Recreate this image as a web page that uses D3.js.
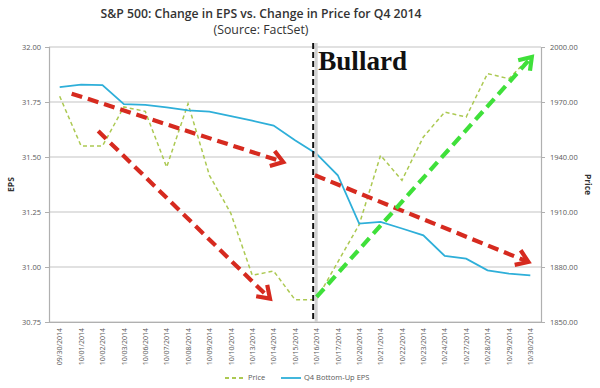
<!DOCTYPE html>
<html>
<head>
<meta charset="utf-8">
<script src="https://cdn.jsdelivr.net/npm/d3@7"></script>
<style>
  body { margin: 0; background: #fff; }
  svg { display: block; font-family: "Open Sans", sans-serif; }
</style>
</head>
<body>
<div id="chart"></div>
<script>
// Chart data
const dates = ["09/30/2014", "10/01/2014", "10/02/2014", "10/03/2014", "10/06/2014", "10/07/2014",
  "10/08/2014", "10/09/2014", "10/10/2014", "10/13/2014", "10/14/2014", "10/15/2014", "10/16/2014",
  "10/17/2014", "10/20/2014", "10/21/2014", "10/22/2014", "10/23/2014", "10/24/2014", "10/27/2014",
  "10/28/2014", "10/29/2014", "10/30/2014"];
const price = [1973.1, 1946.0, 1946.0, 1967.3, 1964.9, 1934.5, 1969.1, 1930.0, 1909.3, 1875.5,
  1877.8, 1862.2, 1862.2, 1882.7, 1903.1, 1940.9, 1927.3, 1950.9, 1964.5, 1961.8, 1985.5, 1982.7, 1994.5];
const eps = [31.818, 31.829, 31.827, 31.740, 31.737, 31.726, 31.712, 31.706, 31.686, 31.665,
  31.643, 31.576, 31.515, 31.417, 31.197, 31.205, 31.175, 31.144, 31.050, 31.038, 30.985, 30.970, 30.962];
const epsTicks = [30.75, 31.00, 31.25, 31.50, 31.75, 32.00];
const priceTicks = [1850, 1880, 1910, 1940, 1970, 2000];

// Hand-drawn annotation arrows, in (date index, EPS value) space
const arrows = [
  { from: [0.56, 31.788], to: [10.45, 31.477], color: "#d62a1f" },
  { from: [1.80, 31.618], to: [9.83, 30.856], color: "#d62a1f" },
  { from: [11.93, 31.417], to: [21.91, 31.023], color: "#d62a1f" },
  { from: [12.01, 30.864], to: [22.07, 31.955], color: "#3fe03a" }
];
const markerIndex = 11.85; // "Bullard" line position

const width = 600, height = 388;
const margin = { top: 47, right: 59, bottom: 66, left: 49 };

const svg = d3.select("#chart").append("svg")
  .attr("width", width)
  .attr("height", height);

const x = d3.scalePoint()
  .domain(dates)
  .range([margin.left, width - margin.right])
  .padding(0.5);
const xi = i => x(dates[0]) + i * x.step();

const yL = d3.scaleLinear().domain([30.75, 32]).range([height - margin.bottom, margin.top]);
const yR = d3.scaleLinear().domain([1850, 2000]).range([height - margin.bottom, margin.top]);

// Gridlines
svg.append("g")
  .selectAll("line")
  .data(epsTicks)
  .join("line")
  .attr("x1", margin.left).attr("x2", width - margin.right)
  .attr("y1", d => yL(d)).attr("y2", d => yL(d))
  .attr("stroke", "#c4c4c4")
  .attr("stroke-width", 1.2);

// Axes
const leftAxis = svg.append("g")
  .attr("transform", `translate(${margin.left},0)`)
  .call(d3.axisLeft(yL).tickValues(epsTicks).tickFormat(d3.format(".2f")).tickSize(4).tickPadding(4));
const rightAxis = svg.append("g")
  .attr("transform", `translate(${width - margin.right},0)`)
  .call(d3.axisRight(yR).tickValues(priceTicks).tickFormat(d3.format(".2f")).tickSize(4).tickPadding(5));
const bottomAxis = svg.append("g")
  .attr("transform", `translate(0,${height - margin.bottom})`)
  .call(d3.axisBottom(x).tickSize(0).tickPadding(5));

[leftAxis, rightAxis, bottomAxis].forEach(g => {
  g.select(".domain").attr("stroke", "#b0b0b0").attr("stroke-width", 1.2);
  g.selectAll(".tick line").attr("stroke", "#b0b0b0");
  g.selectAll("text").attr("fill", "#5a5a5a").attr("font-size", "7.5px").attr("font-family", "Open Sans, sans-serif");
});
bottomAxis.selectAll("text")
  .attr("transform", "rotate(-90)")
  .attr("text-anchor", "end")
  .attr("x", -6)
  .attr("dy", "0.32em")
  .attr("y", 0)
  .attr("font-size", "7px");

// Axis titles
svg.append("text")
  .attr("transform", `translate(14,${(margin.top + height - margin.bottom) / 2}) rotate(-90)`)
  .attr("text-anchor", "middle")
  .attr("font-size", "8.5px").attr("font-weight", "bold").attr("fill", "#333")
  .text("EPS");
svg.append("text")
  .attr("transform", `translate(585,${(margin.top + height - margin.bottom) / 2}) rotate(90)`)
  .attr("text-anchor", "middle")
  .attr("font-size", "8.5px").attr("font-weight", "bold").attr("fill", "#333")
  .text("Price");

// Titles
svg.append("text")
  .attr("x", 261).attr("y", 18)
  .attr("text-anchor", "middle")
  .attr("font-size", "13px").attr("font-weight", 600).attr("fill", "#333")
  .text("S&P 500: Change in EPS vs. Change in Price for Q4 2014")
  .call(fitWidth, 321);
svg.append("text")
  .attr("x", 261).attr("y", 34)
  .attr("text-anchor", "middle")
  .attr("font-size", "12px").attr("fill", "#333")
  .text("(Source: FactSet)")
  .call(fitWidth, 95);

// Series lines
svg.append("path")
  .datum(price)
  .attr("fill", "none")
  .attr("stroke", "#acc952")
  .attr("stroke-width", 1.5)
  .attr("stroke-dasharray", "4,3")
  .attr("d", d3.line().x((d, i) => x(dates[i])).y(d => yR(d)));

svg.append("path")
  .datum(eps)
  .attr("fill", "none")
  .attr("stroke", "#2eafd9")
  .attr("stroke-width", 1.8)
  .attr("d", d3.line().x((d, i) => x(dates[i])).y(d => yL(d)));

// Vertical marker with soft shadow
const mx = xi(markerIndex);
svg.append("line")
  .attr("x1", mx + 3).attr("x2", mx + 3)
  .attr("y1", margin.top - 4).attr("y2", height - margin.bottom)
  .attr("stroke", "#d2d2d2").attr("stroke-width", 3);
svg.append("line")
  .attr("x1", mx).attr("x2", mx)
  .attr("y1", margin.top - 4).attr("y2", height - margin.bottom)
  .attr("stroke", "#111").attr("stroke-width", 2)
  .attr("stroke-dasharray", "6,3");

svg.append("text")
  .attr("x", mx + 5).attr("y", 70)
  .attr("font-family", "Liberation Serif, serif")
  .attr("font-size", "26px").attr("font-weight", "bold").attr("fill", "#111")
  .text("Bullard")
  .call(fitWidth, 89);

// Annotation arrows
const arrowGroup = svg.append("g").attr("class", "arrows");
arrows.forEach(a => {
  const x1 = xi(a.from[0]), y1 = yL(a.from[1]);
  const x2 = xi(a.to[0]), y2 = yL(a.to[1]);
  const ang = Math.atan2(y2 - y1, x2 - x1);
  const head = 14, spread = 0.6;
  arrowGroup.append("line")
    .attr("x1", x1).attr("y1", y1)
    .attr("x2", x2 - 3 * Math.cos(ang)).attr("y2", y2 - 3 * Math.sin(ang))
    .attr("stroke", a.color).attr("stroke-width", 4.2)
    .attr("stroke-dasharray", "11,6");
  const p = [
    [x2 - head * Math.cos(ang - spread), y2 - head * Math.sin(ang - spread)],
    [x2, y2],
    [x2 - head * Math.cos(ang + spread), y2 - head * Math.sin(ang + spread)]
  ];
  arrowGroup.append("path")
    .attr("d", d3.line()(p))
    .attr("fill", "none")
    .attr("stroke", a.color).attr("stroke-width", 4.2)
    .attr("stroke-linejoin", "miter")
    .attr("stroke-linecap", "butt");
});

// Legend
const legendItems = [
  { label: "Price", color: "#acc952", dash: "4,3", x: 225 },
  { label: "Q4 Bottom-Up EPS", color: "#2eafd9", dash: null, x: 281 }
];
const legend = svg.append("g").attr("transform", "translate(0,378)");
legendItems.forEach(item => {
  legend.append("line")
    .attr("x1", item.x).attr("x2", item.x + 20)
    .attr("stroke", item.color).attr("stroke-width", 1.8)
    .attr("stroke-dasharray", item.dash);
  legend.append("text")
    .attr("x", item.x + 23).attr("dy", "0.32em")
    .attr("font-size", "7.5px").attr("fill", "#5a5a5a")
    .text(item.label);
});

// Shrink/grow a text element's font so it spans the given width
function fitWidth(sel, target) {
  sel.each(function() {
    const t = d3.select(this);
    const size = parseFloat(t.attr("font-size"));
    const w = this.getComputedTextLength();
    if (w > 0) t.attr("font-size", (size * target / w).toFixed(2) + "px");
  });
}
</script>
</body>
</html>
